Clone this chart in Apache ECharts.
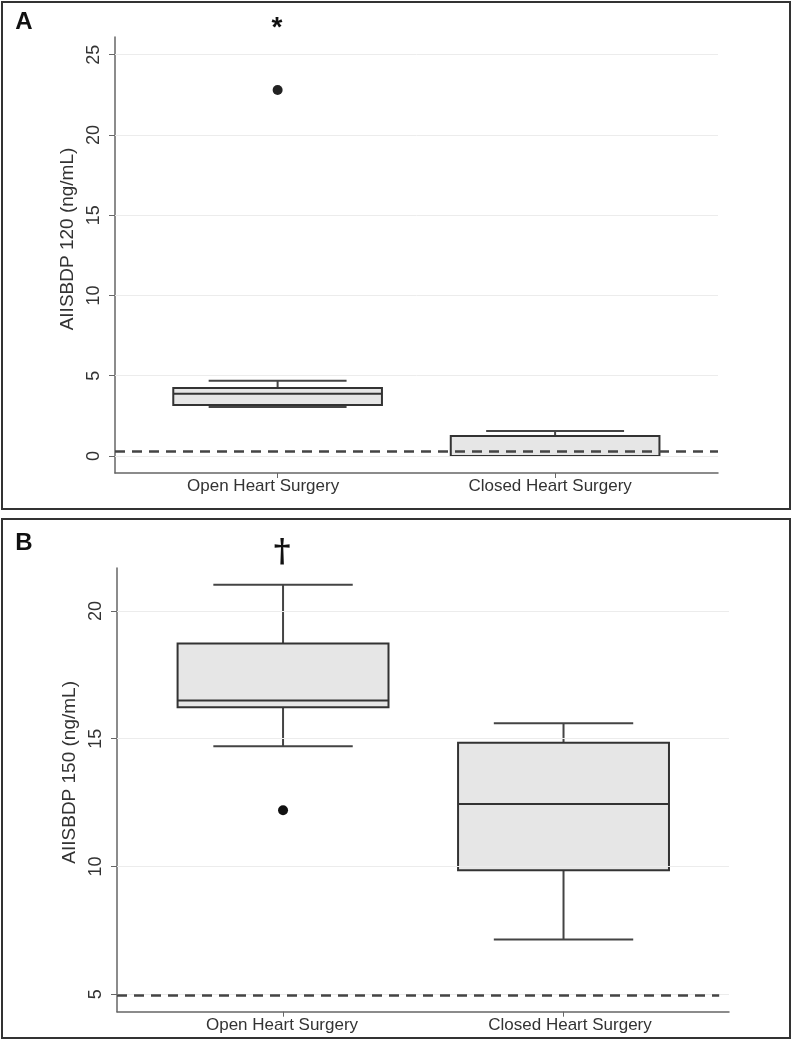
<!DOCTYPE html>
<html>
<head>
<meta charset="utf-8">
<script src="https://cdn.jsdelivr.net/npm/echarts@6/dist/echarts.min.js"></script>
<style>
html,body{margin:0;padding:0;background:#fff;}
#chart{width:794px;height:1050px;}
</style>
</head>
<body>
<div id="chart"></div>
<script>
// ---- data ----
const categories = ['Open Heart Surgery', 'Closed Heart Surgery'];
const categoryPositions = [1, 2];
// box stats: [x, min whisker, Q1, median, Q3, max whisker]
const panelAOpen = [1, 3.05, 3.18, 3.87, 4.24, 4.69];
const panelAClosed = [2, 0, 0, 0, 1.25, 1.56];
const panelAOutliers = [[1, 22.8]];
const panelARef = 0.3;
const panelAYTicks = [0, 5, 10, 15, 20, 25];

const panelBOpen = [1, 14.71, 16.23, 16.5, 18.73, 21.02];
const panelBClosed = [2, 7.14, 9.85, 12.45, 14.84, 15.61];
const panelBOutliers = [[1, 12.2]];
const panelBRef = 4.95;
const panelBYTicks = [5, 10, 15, 20];

// ---- styles ----
const FONT = '"Liberation Sans", Arial, sans-serif';
const boxStroke = '#333';
const boxFill = '#e6e6e6';

function renderBox(params, api) {
  const x = api.value(0);
  const pMin = api.coord([x, api.value(1)]);
  const pQ1 = api.coord([x, api.value(2)]);
  const pMed = api.coord([x, api.value(3)]);
  const pQ3 = api.coord([x, api.value(4)]);
  const pMax = api.coord([x, api.value(5)]);
  const band = api.size([1, 0])[0];
  const bw = band * 0.752;
  const cw = band * 0.497;
  const cx = pMed[0];
  const ls = {stroke: '#444', lineWidth: 2};
  return {
    type: 'group',
    children: [
      {type: 'line', shape: {x1: cx, y1: pQ3[1], x2: cx, y2: pMax[1]}, style: ls},
      {type: 'line', shape: {x1: cx, y1: pQ1[1], x2: cx, y2: pMin[1]}, style: ls},
      {type: 'line', shape: {x1: cx - cw / 2, y1: pMax[1], x2: cx + cw / 2, y2: pMax[1]}, style: ls},
      {type: 'line', shape: {x1: cx - cw / 2, y1: pMin[1], x2: cx + cw / 2, y2: pMin[1]}, style: ls},
      {type: 'rect', shape: {x: cx - bw / 2, y: pQ3[1], width: bw, height: pQ1[1] - pQ3[1]},
        style: {fill: boxFill, stroke: boxStroke, lineWidth: 2}},
      {type: 'line', shape: {x1: cx - bw / 2, y1: pMed[1], x2: cx + bw / 2, y2: pMed[1]},
        style: {stroke: boxStroke, lineWidth: 2}}
    ]
  };
}

function makeXAxis(gridIndex, min, max, pads) {
  return {
    type: 'value', gridIndex, min, max,
    axisLine: {show: true, onZero: false, lineStyle: {color: '#666', width: 1.5}},
    axisTick: {show: true, length: 5, customValues: categoryPositions, lineStyle: {color: '#666', width: 1}},
    splitLine: {show: false},
    axisLabel: {
      customValues: categoryPositions,
      margin: 5,
      formatter: function (v) {
        const i = categoryPositions.indexOf(v);
        return '{c' + i + '|' + categories[i] + '}';
      },
      rich: {
        c0: {fontFamily: FONT, fontSize: 17, color: '#333', padding: pads[0]},
        c1: {fontFamily: FONT, fontSize: 17, color: '#333', padding: pads[1]}
      }
    }
  };
}

function makeYAxis(gridIndex, min, max, ticks, name, nameGap, namePad) {
  return {
    type: 'value', gridIndex, min, max,
    name, nameLocation: 'middle', nameGap,
    nameTextStyle: {fontFamily: FONT, fontSize: 19, color: '#333', padding: namePad},
    axisLine: {show: true, onZero: false, lineStyle: {color: '#666', width: 1.5}},
    axisTick: {show: true, length: 6, customValues: ticks, lineStyle: {color: '#666', width: 1}},
    splitLine: {show: false},
    axisLabel: {customValues: ticks, rotate: 90, margin: 12, fontFamily: FONT, fontSize: 18, color: '#333'}
  };
}

function gridLines(xIdx, yIdx, ticks) {
  return {
    type: 'line', xAxisIndex: xIdx, yAxisIndex: yIdx, data: [], z: 1, silent: true,
    markLine: {
      silent: true, symbol: 'none', animation: false, label: {show: false},
      lineStyle: {type: 'solid', color: '#ececec', width: 1},
      data: ticks.map(t => ({yAxis: t}))
    }
  };
}

const option = {
  animation: false,
  backgroundColor: '#fff',
  grid: [
    {left: 115, right: 76, top: 37, height: 436},
    {left: 117, right: 65, top: 568, height: 443.7}
  ],
  xAxis: [
    makeXAxis(0, 0.414, 2.587, [[0, 29, 0, 0], [0, 10, 0, 0]]),
    makeXAxis(1, 0.408, 2.59, [[0, 2, 0, 0], [0, 0, 0, 13]])
  ],
  yAxis: [
    makeYAxis(0, -1.06, 26.1, panelAYTicks, 'AIISBDP 120 (ng/mL)', 30, [0, 0, 0, 32]),
    makeYAxis(1, 4.32, 21.68, panelBYTicks, 'AIISBDP 150 (ng/mL)', 30, [0, 0, 0, 35])
  ],
  series: [
    gridLines(0, 0, panelAYTicks),
    gridLines(1, 1, panelBYTicks),
    {
      type: 'custom', xAxisIndex: 0, yAxisIndex: 0, z: 3,
      renderItem: renderBox,
      encode: {x: 0, y: [1, 2, 3, 4, 5]},
      data: [panelAOpen, panelAClosed]
    },
    {
      type: 'custom', xAxisIndex: 1, yAxisIndex: 1, z: 3,
      renderItem: renderBox,
      encode: {x: 0, y: [1, 2, 3, 4, 5]},
      data: [panelBOpen, panelBClosed]
    },
    {
      type: 'scatter', xAxisIndex: 0, yAxisIndex: 0, z: 5,
      symbol: 'circle', symbolSize: 10, itemStyle: {color: '#222', opacity: 1},
      data: panelAOutliers,
      markLine: {
        silent: true, symbol: 'none', animation: false, label: {show: false},
        lineStyle: {type: [10, 7], color: '#444', width: 2.5},
        data: [{yAxis: panelARef}]
      }
    },
    {
      type: 'scatter', xAxisIndex: 1, yAxisIndex: 1, z: 5,
      symbol: 'circle', symbolSize: 10, itemStyle: {color: '#111', opacity: 1},
      data: panelBOutliers,
      markLine: {
        silent: true, symbol: 'none', animation: false, label: {show: false},
        lineStyle: {type: [10, 7], color: '#444', width: 2.5},
        data: [[{coord: [0.408, panelBRef]}, {coord: [2.555, panelBRef]}]]
      }
    }
  ],
  graphic: [
    {type: 'rect', shape: {x: 2, y: 2, width: 788, height: 507}, style: {fill: 'none', stroke: '#333', lineWidth: 2}, z: 10, silent: true},
    {type: 'rect', shape: {x: 2, y: 519, width: 788, height: 519}, style: {fill: 'none', stroke: '#333', lineWidth: 2}, z: 10, silent: true},
    {type: 'text', x: 24, y: 22, style: {text: 'A', font: 'bold 24px ' + FONT, fill: '#111', textAlign: 'center', textVerticalAlign: 'middle'}, z: 10},
    {type: 'text', x: 24, y: 543, style: {text: 'B', font: 'bold 24px ' + FONT, fill: '#111', textAlign: 'center', textVerticalAlign: 'middle'}, z: 10},
    {type: 'text', x: 277, y: 28, style: {text: '*', font: 'bold 28px ' + FONT, fill: '#111', textAlign: 'center', textVerticalAlign: 'middle'}, z: 10},
    {type: 'text', x: 282, y: 553, style: {text: '\u2020', font: 'bold 32px "DejaVu Serif", serif', fill: '#111', textAlign: 'center', textVerticalAlign: 'middle'}, z: 10}
  ]
};

const chart = echarts.init(document.getElementById('chart'), null, {renderer: 'canvas'});
chart.setOption(option);
</script>
</body>
</html>
